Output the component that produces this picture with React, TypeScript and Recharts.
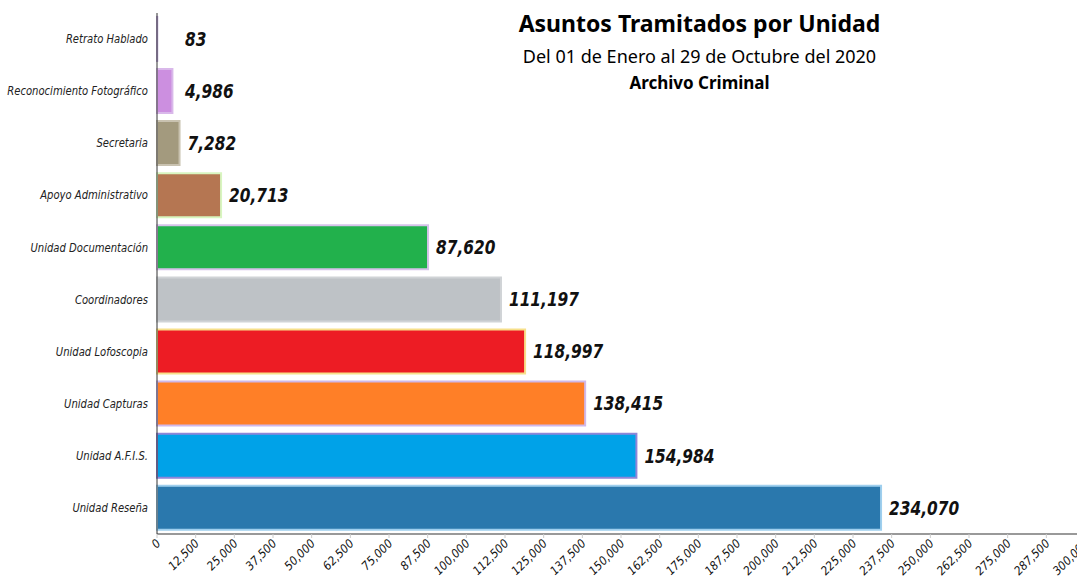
import React from 'react';
import { BarChart, Bar, XAxis, YAxis, Cell, LabelList } from 'recharts';

const categories = [
  'Retrato Hablado',
  'Reconocimiento Fotográfico',
  'Secretaria',
  'Apoyo Administrativo',
  'Unidad Documentación',
  'Coordinadores',
  'Unidad Lofoscopia',
  'Unidad Capturas',
  'Unidad A.F.I.S.',
  'Unidad Reseña',
];

const values = [83, 4986, 7282, 20713, 87620, 111197, 118997, 138415, 154984, 234070];

const fills = ['#5b3f78', '#cc8fe0', '#a39a7e', '#b57652', '#22b14c', '#bec2c6', '#ed1c24', '#ff7f27', '#00a2e8', '#2a78ad'];
const strokes = ['#b9a3d6', '#d9b8ea', '#c9c2b0', '#d8f5c0', '#d6c2ea', '#d0d3d6', '#f7e08a', '#d0b8ea', '#8f86d8', '#9fcfee'];

const xTicks = [
  0, 12500, 25000, 37500, 50000, 62500, 75000, 87500, 100000, 112500, 125000, 137500, 150000,
  162500, 175000, 187500, 200000, 212500, 225000, 237500, 250000, 262500, 275000, 287500, 300000,
];

const data = categories.map((name, i) => ({ name, value: values[i] }));

const fmt = (v: number) => v.toLocaleString('en-US');

const labelFont = '"DejaVu Sans Condensed", "Liberation Sans Narrow", "DejaVu Sans", sans-serif';

const renderValueLabel = (props: any) => {
  const { x, y, width, height, value } = props;
  const lx = Math.max(x + width + 8, 185);
  return (
    <g transform={`translate(${lx},${y + height / 2}) scale(0.9,1)`}>
      <text
        x={0}
        y={0}
        dominantBaseline="central"
        fontFamily={labelFont}
        fontStyle="italic"
        fontWeight="bold"
        fontSize={19}
        fill="#111"
      >
        {fmt(value)}
      </text>
    </g>
  );
};

const XTick = (props: any) => {
  const { x, y, payload } = props;
  return (
    <g transform={`translate(${x},${y})`}>
      <text
        x={0}
        y={0}
        dy={6}
        textAnchor="end"
        transform="rotate(-45)"
        fontFamily={labelFont}
        fontStyle="italic"
        fontSize={12}
        fill="#111"
      >
        {fmt(payload.value)}
      </text>
    </g>
  );
};

const YTick = (props: any) => {
  const { x, y, payload } = props;
  return (
    <g transform={`translate(${x - 1},${y}) scale(0.93,1)`}>
      <text
        x={0}
        y={0}
        dominantBaseline="central"
        textAnchor="end"
        fontFamily={labelFont}
        fontStyle="italic"
        fontSize={12}
        fill="#222"
      >
        {payload.value}
      </text>
    </g>
  );
};

export default function App() {
  return (
    <div style={{ position: 'fixed', left: 0, top: 0, width: 1077, height: 582, overflow: 'hidden', background: '#fff' }}>
      <div
        style={{
          position: 'absolute',
          left: 497,
          width: 405,
          top: 7,
          textAlign: 'center',
          fontFamily: '"Comic Sans MS", "Noto Sans", sans-serif',
          color: '#000',
          zIndex: 2,
        }}
      >
        <div style={{ fontSize: 23, fontWeight: 'bold', lineHeight: '32px' }}>Asuntos Tramitados por Unidad</div>
        <div style={{ fontSize: 18, lineHeight: '30px', marginTop: 2 }}>Del 01 de Enero al 29 de Octubre del 2020</div>
        <div style={{ fontSize: 17, fontWeight: 'bold', lineHeight: '24px' }}>Archivo Criminal</div>
      </div>
      <BarChart
        width={1100}
        height={582}
        data={data}
        layout="vertical"
        margin={{ top: 13, right: 15, bottom: 0, left: 0 }}
        barCategoryGap="7.5%"
      >
        <XAxis
          type="number"
          domain={[0, 300000]}
          ticks={xTicks}
          interval={0}
          height={48}
          tick={<XTick />}
          axisLine={{ stroke: '#999', strokeWidth: 2 }}
          tickLine={{ stroke: '#ccc' }}
          tickSize={4}
        />
        <YAxis
          type="category"
          dataKey="name"
          width={157}
          tick={<YTick />}
          axisLine={{ stroke: '#333' }}
          tickLine={false}
          interval={0}
        />
        <Bar dataKey="value" isAnimationActive={false} strokeWidth={2}>
          {data.map((d, i) => (
            <Cell key={d.name} fill={fills[i]} stroke={strokes[i]} />
          ))}
          <LabelList dataKey="value" content={renderValueLabel} />
        </Bar>
      </BarChart>
    </div>
  );
}
